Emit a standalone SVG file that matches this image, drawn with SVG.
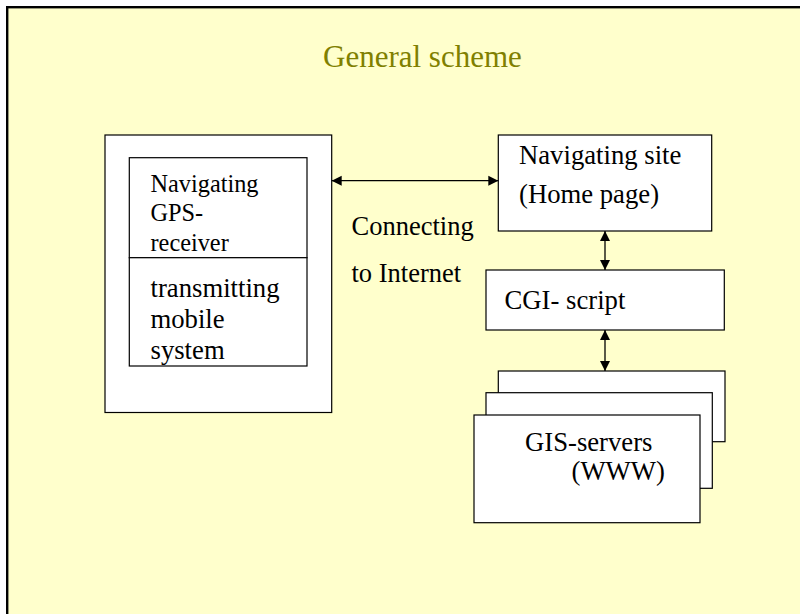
<svg xmlns="http://www.w3.org/2000/svg" width="800" height="614" viewBox="0 0 800 614">
<defs>
<style>
.box{fill:#fff;stroke:#000;stroke-width:1.2}
.t{font-family:"Liberation Serif","Times New Roman",serif;fill:#000}
.conn{stroke:#000;stroke-width:1.3;fill:none;marker-start:url(#ah);marker-end:url(#ah)}
</style>
<marker id="ah" markerUnits="userSpaceOnUse" markerWidth="11" markerHeight="11" refX="10" refY="5.5" orient="auto-start-reverse" viewBox="0 0 11 11">
<path d="M0,0.5 L10,5.5 L0,10.5 z" fill="#000"/>
</marker>
</defs>
<rect x="0" y="0" width="800" height="614" fill="#fff"/>
<rect id="frame" x="7.2" y="7.2" width="840" height="640" fill="#FFFFCC" stroke="#000" stroke-width="2.4"/>
<text id="title" x="323" y="66.5" font-family="Liberation Serif, Times New Roman, serif" font-size="31" fill="#808000">General scheme</text>

<g id="mobile-device">
<rect class="box" x="105" y="135" width="226.7" height="277.5"/>
</g>
<g id="gps-receiver">
<rect class="box" x="129.3" y="157.7" width="177.7" height="100"/>
<text class="t" font-size="24.3"><tspan x="150.5" y="191.5">Navigating</tspan><tspan x="150.5" y="220.5">GPS-</tspan><tspan x="150.5" y="250.5">receiver</tspan></text>
</g>
<g id="transmitting-system">
<rect class="box" x="129.3" y="257.7" width="177.7" height="108.3"/>
<text class="t" font-size="26.7"><tspan x="150.5" y="296.5">transmitting</tspan><tspan x="150.5" y="327.5">mobile</tspan><tspan x="150.5" y="358.5">system</tspan></text>
</g>
<g id="navigating-site">
<rect class="box" x="498.3" y="135" width="213.4" height="96"/>
<text class="t" font-size="26.7"><tspan x="519" y="164">Navigating site</tspan><tspan x="519" y="202.5">(Home page)</tspan></text>
</g>
<g id="cgi-script">
<rect class="box" x="486" y="270" width="238.3" height="60"/>
<text class="t" font-size="26.7" x="504.5" y="309.3">CGI- script</text>
</g>
<g id="gis-servers">
<rect class="box" x="498.3" y="371" width="226.7" height="70.7"/>
<rect class="box" x="486" y="392.7" width="226.3" height="95.6"/>
<rect class="box" x="474" y="415" width="226" height="107.7"/>
<text class="t" font-size="26.7"><tspan x="525" y="450.7">GIS-servers</tspan><tspan x="571.5" y="480">(WWW)</tspan></text>
</g>
<g id="connectors">
<line class="conn" x1="331.7" y1="180.7" x2="498.3" y2="180.7"/>
<line class="conn" x1="605" y1="231" x2="605" y2="270"/>
<line class="conn" x1="605" y1="330" x2="605" y2="371"/>
</g>
<text id="connecting-label" class="t" font-size="26.5"><tspan x="351.5" y="235">Connecting</tspan><tspan x="351.5" y="282.3">to Internet</tspan></text>
</svg>
